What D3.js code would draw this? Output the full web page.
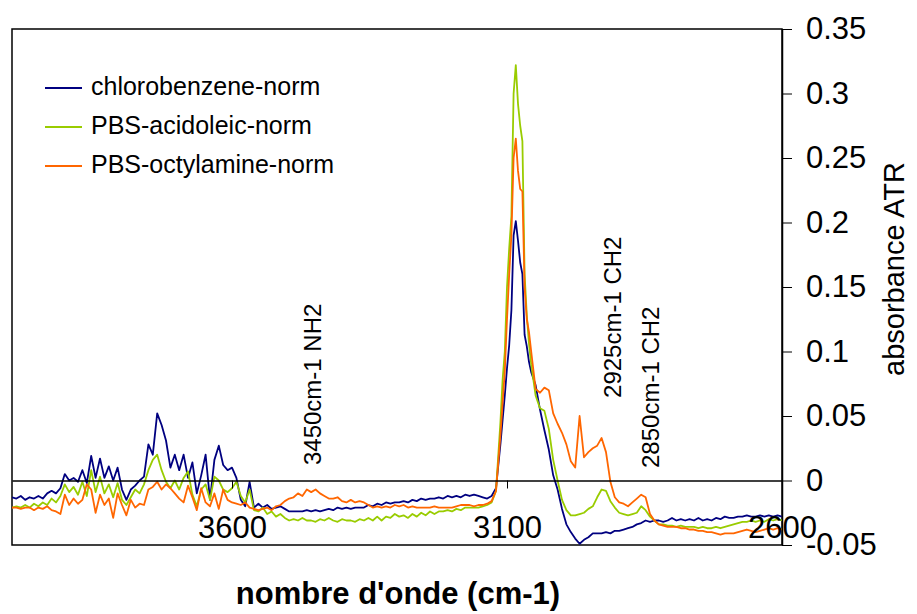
<!DOCTYPE html>
<html>
<head>
<meta charset="utf-8">
<script src="https://cdn.jsdelivr.net/npm/d3@7"></script>
<style>
  body { margin: 0; background: #fff; }
  text { font-family: "Liberation Sans", Arial, sans-serif; fill: #000; }
</style>
</head>
<body>
<svg id="chart" width="917" height="614"></svg>
<script>
// Wavenumber sampling (cm-1), finer around the C-H stretch peak
const wavenumbers = [
  4000,3992,3984,3976,3968,3960,3952,3944,3936,3928,
  3920,3912,3904,3896,3888,3880,3872,3864,3856,3848,
  3840,3832,3824,3816,3808,3800,3792,3784,3776,3768,
  3760,3752,3744,3736,3728,3720,3712,3704,3696,3688,
  3680,3672,3664,3656,3648,3640,3632,3624,3616,3608,
  3600,3592,3584,3576,3568,3560,3552,3544,3536,3528,
  3520,3512,3504,3496,3488,3480,3472,3464,3456,3448,
  3440,3432,3424,3416,3408,3400,3392,3384,3376,3368,
  3360,3352,3344,3336,3328,3320,3312,3304,3296,3288,
  3280,3272,3264,3256,3248,3240,3232,3224,3216,3208,
  3200,3192,3184,3176,3168,3160,3152,3144,3136,3128,
  3120,
  3112,3108,3104,3100,3096,3092,3088,3084,3080,3076,3072,3068,3064,3060,3056,
  3048,3040,3032,3024,3016,3008,3000,2992,2984,2976,
  2968,2960,2952,2944,2936,2928,2920,2912,2904,2896,
  2888,2880,2872,2864,2856,2848,2840,2832,2824,2816,
  2808,2800,2792,2784,2776,2768,2760,2752,2744,2736,
  2728,2720,2712,2704,2696,2688,2680,2672,2664,2656,
  2648,2640,2632,2624,2616,2608,2600
];

const chlorobenzeneNorm = [
  -0.013,-0.014,-0.012,-0.015,-0.013,-0.014,-0.012,-0.014,-0.010,-0.008,
  -0.010,-0.006,0.005,0.000,0.002,-0.001,0.008,-0.002,0.019,0.002,
  0.017,0.002,0.011,0.000,0.010,-0.007,-0.015,-0.007,-0.004,0.000,
  0.003,0.028,0.020,0.052,0.043,0.031,0.010,0.020,0.008,0.020,
  0.002,0.014,-0.010,0.004,0.020,-0.015,0.016,0.027,0.012,0.008,
  0.010,0.002,-0.015,-0.020,-0.001,-0.021,-0.018,-0.021,-0.019,-0.022,
  -0.021,-0.020,-0.022,-0.024,-0.024,-0.024,-0.024,-0.023,-0.024,-0.023,
  -0.024,-0.023,-0.022,-0.023,-0.021,-0.022,-0.021,-0.022,-0.021,-0.021,
  -0.021,-0.019,-0.020,-0.018,-0.019,-0.017,-0.018,-0.017,-0.017,-0.016,
  -0.017,-0.015,-0.016,-0.014,-0.015,-0.014,-0.014,-0.013,-0.014,-0.012,
  -0.013,-0.012,-0.013,-0.011,-0.012,-0.011,-0.012,-0.013,-0.014,-0.012,
  -0.006,
  0.028,0.047,0.066,0.087,0.105,0.132,0.190,0.201,0.186,0.169,0.160,0.113,0.104,0.092,0.084,
  0.074,0.055,0.039,0.024,0.004,-0.007,-0.022,-0.034,-0.040,-0.045,
  -0.049,-0.046,-0.044,-0.041,-0.041,-0.041,-0.040,-0.041,-0.039,-0.039,
  -0.038,-0.037,-0.036,-0.034,-0.033,-0.031,-0.032,-0.031,-0.031,-0.032,
  -0.031,-0.029,-0.031,-0.030,-0.031,-0.030,-0.031,-0.029,-0.031,-0.030,
  -0.031,-0.029,-0.030,-0.028,-0.029,-0.029,-0.028,-0.028,-0.027,-0.028,
  -0.028,-0.027,-0.028,-0.027,-0.028,-0.027,-0.028
];

const pbsAcidOleicNorm = [
  -0.021,-0.020,-0.021,-0.019,-0.021,-0.018,-0.020,-0.017,-0.019,-0.014,
  -0.017,-0.012,-0.003,-0.009,-0.005,-0.011,-0.001,-0.012,0.008,-0.009,
  0.003,-0.010,-0.003,-0.013,-0.002,-0.015,-0.019,-0.013,-0.007,-0.010,
  -0.003,0.008,0.016,0.020,0.008,-0.001,-0.006,0.000,-0.007,0.002,
  0.007,-0.011,-0.020,-0.007,-0.003,-0.015,0.003,0.000,-0.007,-0.009,
  -0.006,-0.001,-0.012,-0.017,-0.007,-0.023,-0.024,-0.021,-0.026,-0.024,
  -0.028,-0.026,-0.029,-0.031,-0.030,-0.031,-0.029,-0.031,-0.031,-0.032,
  -0.030,-0.031,-0.029,-0.031,-0.032,-0.030,-0.031,-0.031,-0.032,-0.030,
  -0.031,-0.029,-0.031,-0.028,-0.031,-0.028,-0.029,-0.026,-0.028,-0.027,
  -0.029,-0.026,-0.028,-0.025,-0.027,-0.024,-0.026,-0.024,-0.024,-0.023,
  -0.024,-0.022,-0.023,-0.021,-0.021,-0.021,-0.021,-0.020,-0.019,-0.017,
  -0.008,
  0.045,0.078,0.100,0.150,0.180,0.205,0.300,0.322,0.292,0.275,0.263,0.160,0.128,0.106,0.090,
  0.066,0.056,0.054,0.040,0.016,0.000,-0.015,-0.023,-0.027,-0.027,
  -0.026,-0.025,-0.022,-0.020,-0.013,-0.007,-0.008,-0.016,-0.021,-0.025,
  -0.026,-0.027,-0.026,-0.025,-0.020,-0.023,-0.028,-0.031,-0.034,-0.034,
  -0.035,-0.035,-0.036,-0.035,-0.036,-0.036,-0.036,-0.037,-0.036,-0.037,
  -0.037,-0.036,-0.037,-0.036,-0.035,-0.034,-0.033,-0.032,-0.032,-0.031,
  -0.032,-0.031,-0.032,-0.030,-0.031,-0.030,-0.031
];

const pbsOctylamineNorm = [
  -0.021,-0.021,-0.022,-0.021,-0.021,-0.023,-0.021,-0.022,-0.020,-0.023,
  -0.024,-0.026,-0.011,-0.019,-0.014,-0.018,-0.015,-0.003,-0.007,-0.025,
  -0.011,-0.019,-0.014,-0.029,-0.010,-0.019,-0.027,-0.015,-0.021,-0.018,
  -0.019,-0.007,-0.005,-0.001,-0.007,-0.003,-0.006,-0.010,-0.014,-0.017,
  -0.004,-0.013,-0.023,-0.006,-0.017,-0.020,-0.010,-0.022,-0.007,-0.015,
  -0.017,-0.018,-0.019,-0.017,-0.021,-0.022,-0.023,-0.022,-0.021,-0.023,
  -0.020,-0.019,-0.016,-0.014,-0.013,-0.010,-0.012,-0.007,-0.009,-0.007,
  -0.010,-0.012,-0.014,-0.014,-0.013,-0.016,-0.017,-0.015,-0.017,-0.016,
  -0.017,-0.019,-0.021,-0.020,-0.021,-0.020,-0.021,-0.019,-0.020,-0.019,
  -0.021,-0.020,-0.021,-0.021,-0.021,-0.021,-0.020,-0.021,-0.021,-0.021,
  -0.021,-0.020,-0.019,-0.019,-0.019,-0.020,-0.019,-0.019,-0.018,-0.016,
  -0.008,
  0.035,0.060,0.085,0.125,0.160,0.190,0.250,0.265,0.240,0.226,0.224,0.150,0.125,0.115,0.100,
  0.071,0.068,0.072,0.070,0.052,0.044,0.037,0.028,0.015,0.010,
  0.050,0.018,0.022,0.025,0.027,0.033,0.022,-0.001,-0.013,-0.017,
  -0.018,-0.020,-0.017,-0.014,-0.011,-0.013,-0.026,-0.031,-0.034,-0.035,
  -0.036,-0.036,-0.036,-0.037,-0.037,-0.038,-0.038,-0.039,-0.039,-0.040,
  -0.040,-0.041,-0.042,-0.041,-0.041,-0.041,-0.040,-0.039,-0.038,-0.039,
  -0.040,-0.039,-0.038,-0.037,-0.038,-0.037,-0.038
];

const seriesNames = ["chlorobenzene-norm", "PBS-acidoleic-norm", "PBS-octylamine-norm"];
const seriesColors = ["#000080", "#99CC00", "#FF6600"];

const xTicks = [3600, 3100, 2600];
const yTicks = [-0.05, 0, 0.05, 0.1, 0.15, 0.2, 0.25, 0.3, 0.35];
const yTickLabels = ["-0.05", "0", "0.05", "0.1", "0.15", "0.2", "0.25", "0.3", "0.35"];

// Band assignments, anchored at (wavenumber, absorbance) of the text start
const bandLabels = ["3450cm-1 NH2", "2925cm-1 CH2", "2850cm-1 CH2"];
const bandAnchorW = [3439, 2893, 2824];
const bandAnchorV = [0.012, 0.064, 0.0097];

const xTitle = "nombre d'onde (cm-1)";
const yTitle = "absorbance ATR";

// ---- layout ----
const plot = { left: 12, right: 782, top: 29, bottom: 545 };
const svg = d3.select("#chart");

const x = d3.scaleLinear().domain([4000, 2600]).range([plot.left, plot.right]);
const y = d3.scaleLinear().domain([-0.05, 0.35]).range([plot.bottom, plot.top]);

svg.append("defs").append("clipPath").attr("id", "plotClip")
  .append("rect")
  .attr("x", plot.left).attr("y", plot.top)
  .attr("width", plot.right - plot.left).attr("height", plot.bottom - plot.top);

// plot frame
svg.append("rect")
  .attr("x", plot.left).attr("y", plot.top)
  .attr("width", plot.right - plot.left).attr("height", plot.bottom - plot.top)
  .attr("fill", "none").attr("stroke", "#000").attr("stroke-width", 1.5);

// x axis sits on the zero absorbance line
const xAxis = svg.append("g")
  .attr("transform", `translate(0,${y(0)})`)
  .call(d3.axisBottom(x).tickValues(xTicks).tickSize(8).tickSizeOuter(0).tickFormat(d3.format("d")));
xAxis.select(".domain").attr("stroke", "#000").attr("stroke-width", 1.3);
xAxis.selectAll(".tick line").attr("stroke", "#000");

// spectra
const seriesValues = [chlorobenzeneNorm, pbsAcidOleicNorm, pbsOctylamineNorm];
const line = d3.line()
  .x((d, i) => x(wavenumbers[i]))
  .y(d => y(d));

const linesG = svg.append("g").attr("clip-path", "url(#plotClip)");
seriesValues.forEach((vals, k) => {
  linesG.append("path")
    .datum(vals)
    .attr("fill", "none")
    .attr("stroke", seriesColors[k])
    .attr("stroke-width", 1.8)
    .attr("stroke-linejoin", "round")
    .attr("d", line);
});

// x tick labels drawn over the traces
xAxis.raise();
xAxis.selectAll(".tick text")
  .attr("font-size", 31)
  .attr("font-family", "Liberation Sans, Arial, sans-serif")
  .attr("fill", "#000")
  .attr("y", 538 - y(0))
  .attr("dy", null);

// right-hand absorbance axis
const yAxis = svg.append("g")
  .attr("transform", `translate(${plot.right},0)`)
  .call(d3.axisRight(y).tickValues(yTicks).tickSize(10).tickSizeOuter(0).tickPadding(14)
    .tickFormat((d, i) => yTickLabels[i]));
yAxis.select(".domain").attr("stroke", "#000").attr("stroke-width", 1.5);
yAxis.selectAll(".tick line").attr("stroke", "#000");
yAxis.selectAll(".tick text")
  .attr("font-size", 31)
  .attr("font-family", "Liberation Sans, Arial, sans-serif")
  .attr("fill", "#000");

// band annotations
bandLabels.forEach((t, i) => {
  svg.append("text")
    .attr("transform", `translate(${x(bandAnchorW[i])},${y(bandAnchorV[i])}) rotate(-90)`)
    .attr("font-size", 24)
    .text(t);
});

// legend
const legend = svg.append("g");
const legendRows = [88, 127, 166];
seriesNames.forEach((name, k) => {
  legend.append("line")
    .attr("x1", 45).attr("x2", 82)
    .attr("y1", legendRows[k]).attr("y2", legendRows[k])
    .attr("stroke", seriesColors[k]).attr("stroke-width", 1.8);
  legend.append("text")
    .attr("x", 91).attr("y", legendRows[k] + 7)
    .attr("font-size", 25)
    .text(name);
});

// axis titles
svg.append("text")
  .attr("x", 398).attr("y", 604)
  .attr("text-anchor", "middle")
  .attr("font-size", 31)
  .attr("font-weight", "bold")
  .text(xTitle);

svg.append("text")
  .attr("transform", "translate(904,269) rotate(-90)")
  .attr("text-anchor", "middle")
  .attr("font-size", 29)
  .text(yTitle);
</script>
</body>
</html>
